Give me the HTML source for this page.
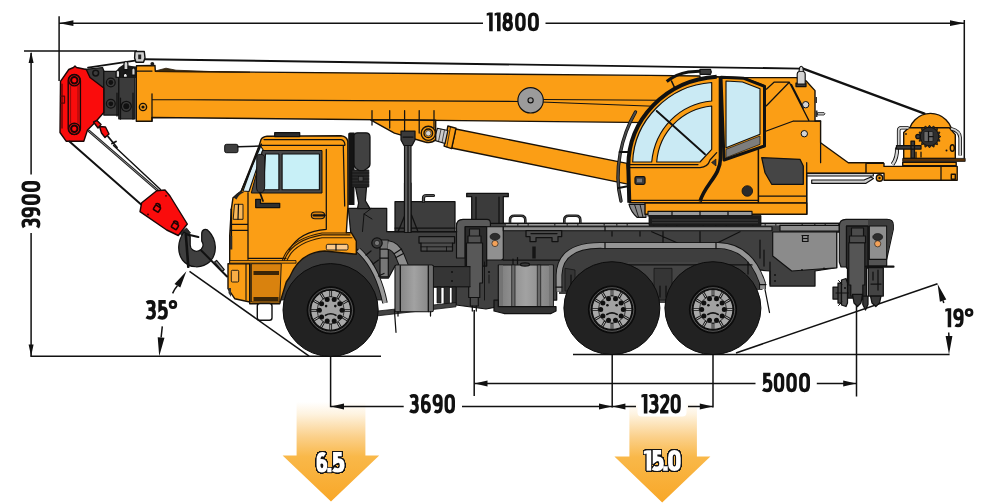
<!DOCTYPE html>
<html>
<head>
<meta charset="utf-8">
<title>Crane truck dimensions</title>
<style>
html,body{margin:0;padding:0;background:#fff;}
body{width:986px;height:504px;overflow:hidden;font-family:"Liberation Sans",sans-serif;}
svg{display:block;}
.dim{stroke:#111;stroke-width:1.5;fill:none;}
.ah{fill:#111;stroke:none;}
.t{font-family:"Liberation Sans",sans-serif;font-weight:bold;fill:#111;}
.o{fill:#FB9E15;stroke:#1a1208;stroke-width:1.4;stroke-linejoin:round;}
.r{fill:#FA0C0C;stroke:#1a0808;stroke-width:1.4;stroke-linejoin:round;}
.dk{fill:#3b3b3b;stroke:#111;stroke-width:1.25;stroke-linejoin:round;}
.md{fill:#5b5b5b;stroke:#111;stroke-width:1.15;stroke-linejoin:round;}
.lt{fill:#9b9b9b;stroke:#111;stroke-width:1.15;stroke-linejoin:round;}
.gl{fill:#CAEAF4;stroke:#111;stroke-width:1.15;stroke-linejoin:round;}
.gs{fill:none;stroke:#111;stroke-width:18}.gd{fill:none;stroke:#111;stroke-width:14}.gf{fill:#111;stroke:none}
.gso{fill:none;stroke:#111;stroke-width:36;stroke-linejoin:round;stroke-linecap:round}.gfo{fill:#111;stroke:#111;stroke-width:17;stroke-linejoin:round}
.gsw{fill:none;stroke:#fff;stroke-width:22}.gfw{fill:#fff;stroke:#fff;stroke-width:2}
.ln{fill:none;stroke:#111;stroke-width:1.25;stroke-linecap:round;stroke-linejoin:round;}
</style>
</head>
<body>
<svg width="986" height="504" viewBox="0 0 986 504">
<defs>
<filter id="ol" x="-10%" y="-20%" width="120%" height="140%" color-interpolation-filters="sRGB"><feMorphology in="SourceAlpha" operator="dilate" radius="1.1" result="d"/><feGaussianBlur in="d" stdDeviation="0.45" result="b"/><feComponentTransfer in="b" result="t"><feFuncA type="linear" slope="6" intercept="-1.6"/></feComponentTransfer><feFlood flood-color="#141414"/><feComposite in2="t" operator="in" result="o"/><feMerge><feMergeNode in="o"/><feMergeNode in="SourceGraphic"/></feMerge></filter>
<linearGradient id="gt" x1="0" y1="0" x2="1" y2="0"><stop offset="0" stop-color="#7c7c7c"/><stop offset="0.5" stop-color="#a2a2a2"/><stop offset="1" stop-color="#808080"/></linearGradient>
<linearGradient id="ga" x1="0" y1="0" x2="0" y2="1">
<stop offset="0" stop-color="#ffffff"/>
<stop offset="0.12" stop-color="#FEF3E0"/>
<stop offset="0.35" stop-color="#FBD08A"/>
<stop offset="0.55" stop-color="#F9B849"/>
<stop offset="1" stop-color="#F8A728"/>
</linearGradient>
<path id="g0" d="M9 36C9 17 16 9 28 9C40 9 47 17 47 36V64C47 83 40 91 28 91C16 91 9 83 9 64Z"/>
<path id="g8" d="M28 9C38 9 44 16 44 27C44 39 38 47 28 47C18 47 12 39 12 27C12 16 18 9 28 9ZM28 47C40 47 47 56 47 69C47 83 40 91 28 91C16 91 9 83 9 69C9 56 16 47 28 47Z"/>
<path id="g3" d="M5 15C11 11 18 9 25 9C37 9 42 16 42 27C42 40 35 47 22 47H14M22 47C36 47 44 55 44 69C44 83 37 91 24 91C17 91 10 89 4 85"/>
<path id="g6" d="M44 13C40 10 35 9 30 9C16 9 9 19 9 40V65C9 83 16 91 28 91C40 91 47 83 47 67C47 52 40 45 28 45C19 45 12 50 9 58"/>
<path id="g9" d="M12 87C16 90 21 91 26 91C40 91 47 81 47 60V35C47 17 40 9 28 9C16 9 9 17 9 33C9 48 16 55 28 55C37 55 44 50 47 42"/>
<path id="g5" d="M44 9H15V46C19 43 24 41 29 41C40 41 46 50 46 65C46 82 39 91 26 91C18 91 11 89 5 85"/>
<path id="g2" d="M7 20C12 13 19 9 27 9C38 9 44 16 44 28C44 39 38 48 30 58L12 86M3 91H47"/>
<path id="g1" d="M0 4L13 0H32V100H13V15L0 18Z"/>
<path id="gdot" d="M0 79H20V100H0Z"/>
<path id="gdeg" d="M22 7C31 7 37 13 37 23C37 33 31 39 22 39C13 39 7 33 7 23C7 13 13 7 22 7Z"/>
<g id="wheel">
<circle r="23.6" fill="#111" stroke="#050505" stroke-width="0.8"/>
<circle r="21.8" fill="none" stroke="#6a6a6a" stroke-width="0.8"/>
<circle r="20" fill="#a9a9a9" stroke="#0a0a0a" stroke-width="1.1"/>
<path d="M0.0 -13.2L0.0 -20.0M6.6 -11.4L10.0 -17.3M11.4 -6.6L17.3 -10.0M13.2 -0.0L20.0 -0.0M11.4 6.6L17.3 10.0M6.6 11.4L10.0 17.3M0.0 13.2L0.0 20.0M-6.6 11.4L-10.0 17.3M-11.4 6.6L-17.3 10.0M-13.2 0.0L-20.0 0.0M-11.4 -6.6L-17.3 -10.0M-6.6 -11.4L-10.0 -17.3" stroke="#161616" stroke-width="2.7" fill="none"/>
<path d="M0.0 -14.2L0.0 -19.3M7.1 -12.3L9.6 -16.7M12.3 -7.1L16.7 -9.7M14.2 -0.0L19.3 -0.0M12.3 7.1L16.7 9.6M7.1 12.3L9.6 16.7M0.0 14.2L0.0 19.3M-7.1 12.3L-9.7 16.7M-12.3 7.1L-16.7 9.7M-14.2 0.0L-19.3 0.0M-12.3 -7.1L-16.7 -9.7M-7.1 -12.3L-9.7 -16.7" stroke="#c4c4c4" stroke-width="0.9" fill="none"/>
<circle r="13.6" fill="#a2a2a2" stroke="#1a1a1a" stroke-width="0.8"/>
<g fill="#0f0f0f"><circle cx="3.5" cy="-10.7" r="2.5"/><circle cx="9.1" cy="-6.6" r="2.5"/><circle cx="11.3" cy="-0.0" r="2.5"/><circle cx="9.1" cy="6.6" r="2.5"/><circle cx="3.5" cy="10.7" r="2.5"/><circle cx="-3.5" cy="10.7" r="2.5"/><circle cx="-9.1" cy="6.6" r="2.5"/><circle cx="-11.3" cy="0.0" r="2.5"/><circle cx="-9.1" cy="-6.6" r="2.5"/><circle cx="-3.5" cy="-10.7" r="2.5"/><circle cx="-4.6" cy="-4.2" r="1.3"/><circle cx="4.6" cy="-4.2" r="1.3"/></g>
<path d="M-5.2 5Q0 1.8 5.2 5" fill="none" stroke="#141414" stroke-width="1.6" stroke-linecap="round"/>
</g>
</defs>
<rect width="986" height="504" fill="#fff"/>

<!-- ===== LOAD ARROWS ===== -->
<g id="arrows">
<path d="M296.6 402H365.4V455.6H379.2L331 501.5L282.6 455.6H296.6Z" fill="url(#ga)"/>
<path d="M629.4 402H696.9V456.5H710.4L662.2 502.4L614.4 456.5H629.4Z" fill="url(#ga)"/>
</g>

<!-- ===== DIMENSIONS ===== -->
<g id="dims">
<!-- 11800 -->
<path class="dim" d="M59.1 16.3V81M964.3 20V158.5M59 23.2H483M545.5 23.2H964"/>
<path class="ah" d="M59.2 23.2L73.4 20.3V26.1ZM964.1 23.2L950 20.3V26.1Z"/>
<!-- 3900 -->
<path class="dim" d="M24 51H137M31.1 53V174.5M31.1 233V356"/>
<path class="ah" d="M31.1 51.4L28.6 63H33.6ZM31.1 356.2L28.6 344.6H33.6Z"/>
<!-- ground -->
<path class="dim" d="M30.3 356.2H381M573 354.4H949.6"/>
<!-- 35 deg -->
<path class="dim" d="M189.5 271.3L309.1 356.2"/>
<path class="dim" d="M172.6 293.4Q174.5 289 177.4 285.7M162.3 326.4L161.1 337.5"/>
<path class="ah" d="M186.4 271.3L180.3 287.5L174.5 283.9ZM159.2 356.2L157.7 337.2L164.5 337.8Z"/>
<!-- 19 deg -->
<path class="dim" d="M736 353L937.5 283.8"/>
<path class="dim" d="M943.8 303L943 300.5M948.7 332.5L949 338"/>
<path class="ah" d="M937.6 284.1L946.3 299.6L939.9 301.8ZM949 354.4L945.6 336H952.4Z"/>
<!-- lower dims -->
<path class="dim" d="M330.6 355V407.2M612.2 355V407.5M713 355V407.5M474.2 310V396M856.5 301V396.5"/>
<path class="dim" d="M331 406.4H403.7M462 406.4H636M688 406.4H713"/>
<path class="dim" d="M474.5 383.5H755.5M816.8 383.5H856"/>
<path class="ah" d="M331 406.4L344 403.4V409.4ZM612 406.4L599 403.4V409.4ZM612.4 406.4L625.4 403.4V409.4ZM712.8 406.4L699.8 403.4V409.4ZM474.5 383.5L487.5 380.5V386.5ZM856.2 383.5L843.2 380.5V386.5Z"/>
<rect x="637.5" y="392" width="49" height="24.5" rx="4" fill="#fff"/>
</g>

<!-- ===== TEXT ===== -->
<g id="labels">
<use href="#g1" class="gf" transform="translate(486.7 12.4) scale(0.1875 0.1880)"/>
<use href="#g1" class="gf" transform="translate(494.6 12.4) scale(0.1875 0.1880)"/>
<use href="#g8" class="gs" transform="translate(502.4 12.4) scale(0.1893 0.1880)"/>
<use href="#g0" class="gs" transform="translate(515.1 12.4) scale(0.1893 0.1880)"/>
<use href="#g0" class="gs" transform="translate(527.9 12.4) scale(0.1964 0.1880)"/>
<use href="#g3" class="gs" transform="translate(21.4 228.2) rotate(-90) translate(0.0 0) scale(0.1846 0.1900)"/>
<use href="#g9" class="gs" transform="translate(21.4 228.2) rotate(-90) translate(10.7 0) scale(0.1821 0.1900)"/>
<use href="#g0" class="gs" transform="translate(21.4 228.2) rotate(-90) translate(23.2 0) scale(0.1929 0.1900)"/>
<use href="#g0" class="gs" transform="translate(21.4 228.2) rotate(-90) translate(36.3 0) scale(0.1929 0.1900)"/>
<use href="#g3" class="gs" transform="translate(409.3 394.0) scale(0.1808 0.1940)"/>
<use href="#g6" class="gs" transform="translate(421.0 394.0) scale(0.1768 0.1940)"/>
<use href="#g9" class="gs" transform="translate(432.5 394.0) scale(0.1821 0.1940)"/>
<use href="#g0" class="gs" transform="translate(444.5 394.0) scale(0.1875 0.1940)"/>
<use href="#g1" class="gf" transform="translate(641.4 394.0) scale(0.1875 0.1940)"/>
<use href="#g3" class="gs" transform="translate(648.7 394.0) scale(0.1885 0.1940)"/>
<use href="#g2" class="gs" transform="translate(659.5 394.0) scale(0.1885 0.1940)"/>
<use href="#g0" class="gs" transform="translate(670.6 394.0) scale(0.1821 0.1940)"/>
<use href="#g5" class="gs" transform="translate(762.0 372.7) scale(0.1904 0.1950)"/>
<use href="#g0" class="gs" transform="translate(773.8 372.7) scale(0.1875 0.1950)"/>
<use href="#g0" class="gs" transform="translate(786.3 372.7) scale(0.1875 0.1950)"/>
<use href="#g0" class="gs" transform="translate(799.1 372.7) scale(0.1946 0.1950)"/>
<use href="#g3" class="gs" transform="translate(145.7 300.1) scale(0.1942 0.1960)"/>
<use href="#g5" class="gs" transform="translate(157.2 300.1) scale(0.1942 0.1960)"/>
<use href="#gdeg" class="gd" transform="translate(168.7 300.1) scale(0.1932 0.1960)"/>
<use href="#g1" class="gf" transform="translate(945.3 308.2) scale(0.1844 0.1910)"/>
<use href="#g9" class="gs" transform="translate(953.2 308.2) scale(0.1857 0.1910)"/>
<use href="#gdeg" class="gd" transform="translate(964.8 308.2) scale(0.1955 0.1910)"/>
<g filter="url(#ol)">
<use href="#g6" class="gsw" transform="translate(316.9 452.4) scale(0.1786 0.1970)"/>
<use href="#gdot" class="gfw" transform="translate(327.4 452.4) scale(0.1950 0.1970)"/>
<use href="#g5" class="gsw" transform="translate(332.2 452.4) scale(0.2173 0.1970)"/>
<use href="#g1" class="gfw" transform="translate(644.0 450.5) scale(0.2188 0.2010)"/>
<use href="#g5" class="gsw" transform="translate(651.9 450.5) scale(0.2096 0.2010)"/>
<use href="#gdot" class="gfw" transform="translate(663.3 450.5) scale(0.2150 0.2010)"/>
<use href="#g0" class="gsw" transform="translate(668.5 450.5) scale(0.2107 0.2010)"/>
</g>
</g>

<!-- ===== CRANE TRUCK ===== -->
<g id="truck">
<!--BOOM-->
<g id="boom">
<!-- top rope + guy line to winch -->
<path class="ln" style="stroke-width:1.9" d="M144 59.2L800.5 68.6"/><path class="ln" style="stroke-width:2.3" d="M803 68.6L924.5 113.6"/>
<path class="ln" style="stroke-width:1.7" d="M88 67.6L135 60.6"/>
<!-- main boom -->
<path class="o" d="M136.5 65.8L155 65.5L155.3 71.3L650 75.4L700 76V124L650 122.6L152 117.5V121.2H136.3V70Z"/>
<path class="ln" d="M152 99.5L520 101.5M541 102L700 108M541 99.5L700 100.5M152 93.8V121.2M136.5 71H152"/>
<path d="M156 70.8L166 68.2L176 70.2L210 71.5L250 72.3L156 71.6Z" fill="#3a2a10" stroke="#2a1a08" stroke-width="0.8"/>
<circle cx="143" cy="107" r="3.6" class="o"/><circle cx="143" cy="107" r="1.6" fill="#111"/>
<circle cx="530.6" cy="100.3" r="12.7" class="lt"/><circle cx="530.6" cy="100.3" r="2.6" class="lt"/>
<!-- dark telescoping sections -->
<path class="dk" d="M85.5 69.3L102.5 67.5L104 71.3V89.5L89 78Z"/>
<path class="dk" d="M103.8 71.3H118.8V115H103.8Z"/>
<path class="dk" d="M118.8 76.3H135V118.8H118.8Z"/>
<path class="ln" d="M117 93V116M120.5 98V119M133 93V119"/>
<circle cx="110.8" cy="82.5" r="4.4" class="dk"/><circle cx="110.8" cy="82.5" r="2.4" fill="#111"/>
<circle cx="110.8" cy="103.8" r="4.4" class="dk"/><circle cx="110.8" cy="103.8" r="2.4" fill="#111"/>
<circle cx="126.3" cy="106.3" r="5" class="dk"/><circle cx="126.3" cy="106.3" r="3" fill="#111"/>
<!-- small rollers on top -->
<path d="M115.5 72L119 67.5L123.5 64.5L131.5 66L136.3 66.5V78H115.5Z" fill="#1a1a1a"/>
<path d="M135 51.5H144.3L145 58L143.5 62.3H136L134.6 58Z" fill="#cfcfcf" stroke="#111" stroke-width="1.4" stroke-linejoin="round"/>
<path d="M138.2 54.5H141.2V59.2H138.2Z" fill="#222"/>
<path class="lt" style="fill:#d6d6d6" d="M124 63.5Q125.9 59 127.9 63.5V69.6H124Z"/>
<path class="lt" style="fill:#d6d6d6" d="M116.2 72Q117.9 68.5 119.6 72V77.3H116.2ZM131.8 69.5Q133.4 66.5 135.1 69.5V75.1H131.8Z"/>
<path class="lt" style="fill:#ececec" d="M123.4 74.8L125.3 72.3L127.3 74.8V77.3H123.4Z"/>
<circle cx="152.3" cy="63.8" r="1.9" fill="#1a1a1a"/>
<circle cx="95.7" cy="73.1" r="2.9" fill="#3b3b3b" stroke="#111" stroke-width="1.5"/>
<!-- red head -->
<path class="r" d="M68.8 69.5L73.5 67.5L75 66L76.5 67.5L86.3 69.5L90 77.5L103.8 88V112.5L95 122.5L87.5 130L83.8 141.3H66.3L60 132.5L60.5 81.3Z"/>
<path class="ln" style="stroke:#5a0505" d="M62 84V128M64.5 96H60.5M64.5 103H60.5M64.5 96V103"/>
<rect x="68.2" y="74.5" width="12.2" height="60" rx="6.1" class="r"/>
<path class="ln" style="stroke:#7a0a0a;stroke-width:0.8" d="M70.6 86V123M78 86V123"/>
<circle cx="74.3" cy="80.3" r="5.6" class="r"/><circle cx="74.3" cy="80.3" r="3.2" fill="#FA0C0C" stroke="#1a0505" stroke-width="2"/>
<circle cx="74.3" cy="128.8" r="5.6" class="r"/><circle cx="74.3" cy="128.8" r="3.2" fill="#FA0C0C" stroke="#1a0505" stroke-width="2"/>
<!-- hoist ropes -->
<path class="ln" style="stroke-width:2" d="M69.5 141.5L141.7 205"/>
<path class="ln" style="stroke-width:2.6;stroke:#222" d="M89 131L157.5 190.3"/><path class="ln" style="stroke-width:0.7;stroke:#bbb" d="M89 131L157.5 190.3"/>
<path class="ln" style="stroke-width:1.4" d="M113.5 145.5L160.5 189.5"/>
<path class="r" d="M93.5 122L97 120.5L101 124.5L98 128ZM99.5 126.5L105.5 127L109 134L105 137.5L101.5 133Z"/>
<path class="ln" style="stroke-width:1.8" d="M108 136.5L117 147.5M112 143.5L116 141.5"/>
<!-- hook block -->
<path class="r" d="M141.7 202.7L156.7 190.7L165 190L170 196L187.3 224L178.3 235.5L166.7 230L140 211.7Z"/>
<g fill="none" stroke="#1e0303" stroke-width="1.6"><rect x="154" y="206" width="6" height="5.2" rx="1" transform="rotate(32 157 208.6)"/><path d="M155.5 204.5a2.6 2.6 0 0 1 4.4 2.6"/><rect x="172" y="223.5" width="6" height="5.2" rx="1" transform="rotate(32 175 226)"/><path d="M173.3 222a2.6 2.6 0 0 1 4.4 2.6"/></g>
<circle cx="148" cy="214.5" r="0.9" fill="#300"/><circle cx="166" cy="195.8" r="0.9" fill="#300"/>
<!-- hook -->
<path d="M180 233.5L186.5 228L190.5 233L184.5 238.5Z" fill="#2a2a2a" stroke="#111" stroke-width="0.8"/>
<path class="dk" style="fill:#3f3f3f" d="M183.9 232L190.2 236.5V244.8A6.4 6.4 0 1 0 201.7 241V234.5C201.5 229.5 206 227.5 209 231.5C217 240 217.5 254 210 261.5C202 269 189 268.5 182.5 260C177 252.5 177.5 241 183.9 232Z"/>
<path class="ln" style="stroke-width:2.6" d="M185.8 234L188.3 266.8"/>
<path class="ln" style="stroke-width:2.2" d="M186.5 234.3L198.3 237"/>
<path class="ln" style="stroke-width:2" d="M201.3 250.5L227 276.5"/>
<path class="md" style="fill:#8a8a8a" d="M214.6 262L216.6 260.4L224.3 269.6L222.3 271.4Z"/>
</g>
<!--CHASSIS-->
<g id="chassis">
<path d="M280 300L284 270Q292 240 320 236H352L358 246Q368 255 376 272L382 300H290Z" fill="#3a3a3a" stroke="#111" stroke-width="0.8"/>
<!-- main frame dark body -->
<path class="dk" style="fill:#404040" d="M348.3 208.3H386.7V231.7H456.7V223.3H839.3V232H836.7V267.7L815 271V286H770V271L740 268.3H560L556.7 291.7V300H498.3V306.7L486 309L456 305V287H433.3V266H395L388.5 278H380L372 262L352 245Z"/>
<!-- snorkel -->
<path d="M348.2 134Q348.2 132.5 350 132.5H354.5V205H348.2Z" fill="#141414"/>
<path class="dk" style="fill:#3d3d3d" d="M355.5 187H366.5L365.4 200.7L370 208.6H357.5L358.6 203Z"/>
<path d="M351.8 170H368.8V187H351.8Z" fill="#2a2a2a" stroke="#111" stroke-width="0.8"/>
<path class="ln" style="stroke-width:0.8" d="M351.8 173H368.8M351.8 176H368.8M351.8 179H368.8M351.8 182H368.8M351.8 185H368.8"/>
<rect x="358.5" y="176.5" width="4.5" height="4.5" fill="#4a4a4a" stroke="#111" stroke-width="0.6"/>
<path class="dk" style="fill:#414141" d="M354 136Q354 132.8 357.5 132.8H366Q370 132.8 370 137V164Q370 167 367 168.5L364 170.5H359L356 168.5Q354 167 354 164Z"/>
<path class="ln" style="stroke-width:1" d="M371 208.6L364 214L362.5 231.5M364 214L372 219"/>
<!-- tank box behind post -->
<path class="dk" style="fill:#3d3d3d" d="M395 201.7H455V231.7H395Z"/>
<path d="M423.5 201.5V198Q423.5 195.5 426.5 195.5H433.5" fill="none" stroke="#111" stroke-width="3.2" stroke-linecap="round"/>
<path d="M423.5 201.5V198Q423.5 195.5 426.5 195.5H433.5" fill="none" stroke="#555" stroke-width="1.4" stroke-linecap="round"/>
<path class="ln" d="M395 228H455M398 231.7L405 215M418 231.7L411.5 215"/>
<path class="md" d="M404.5 183H411V231.7H404.5Z"/>
<!-- pedestal -->
<path class="dk" d="M466.7 193.3H508.3V196.7H503.3V223.3H471.7V196.7H466.7Z"/>
<path class="ln" d="M476 197V223M499 197V223"/>
<!-- front outrigger -->
<path class="md" style="fill:#5a5a5a" d="M456.5 258V226Q456.5 219.3 463 219.3H487Q490.4 219.3 490.4 223V226.7H465.2V258Z"/>
<path class="dk" style="fill:#2b2b2b" d="M465.2 226.7H486.7V266H465.2Z"/>
<path class="md" style="fill:#505050" d="M469.5 229H479.5V236H469.5ZM468 236H481V243H468Z"/>
<path class="md" style="fill:#585858" d="M466.5 243H482.5V283H479.8V297.5H468.7V283H466.5Z"/>
<path class="md" style="fill:#4a4a4a" d="M470.3 297.5H478.3V306H470.3Z"/><path class="ln" d="M472.3 306V311M476.3 306V311"/>
<path class="ln" style="stroke-width:0.9" d="M484.5 262V300M489 275V283"/>
<circle cx="489" cy="272" r="1.1" fill="#111"/>
<path class="lt" style="fill:#909090" d="M486.7 226.7H503.3V258Q503.3 260 501 260H486.7Z"/>
<ellipse cx="495" cy="236.7" rx="5" ry="3.4" fill="#2d2d2d" stroke="#111" stroke-width="0.6"/>
<circle cx="495" cy="243.5" r="3.1" fill="#F4A259" stroke="#222" stroke-width="0.7"/>
<!-- deck -->
<path class="lt" style="fill:#8e8e8e" d="M503.3 226.7H772V230.7H503.3Z"/>
<path class="ln" d="M503.3 223.3H839.3M605 226.7V230.7M780 223.3V226"/>
<path d="M510 223V220Q510 215.8 514.5 215.8H521Q525.3 215.8 525.3 220V223M564.3 223V220Q564.3 215.8 568.8 215.8H576Q580.3 215.8 580.3 220V223" fill="none" stroke="#111" stroke-width="2.6"/>
<path d="M510 223V220Q510 215.8 514.5 215.8H521Q525.3 215.8 525.3 220V223M564.3 223V220Q564.3 215.8 568.8 215.8H576Q580.3 215.8 580.3 220V223" fill="none" stroke="#4a4a4a" stroke-width="1"/>
<path d="M506 224.8H838" fill="none" stroke="#c4c4c4" stroke-width="1" stroke-dasharray="11 1.5 9 1.5 25 1.5"/>
<!-- steps -->
<path class="dk" style="fill:#4a4a4a" d="M526 230.7H561.7V236.5H558V241.5H552V237.5H536V241.5H530V236.5H526Z"/>
<path class="ln" d="M531 233.5H557"/>
<path class="dk" style="fill:#4c4c4c" d="M419 236.5H454.6V243H452.5V251H421V243H419Z"/><path class="ln" style="stroke-width:0.9" d="M421 243H452.5M421 246.8H452.5M427 246.8V251M446.5 246.8V251"/>
<rect x="532.3" y="246.5" width="3.4" height="12" fill="#151515"/>
<!-- frame details -->
<path class="ln" d="M388.3 231.7H456.7M433.3 266.7H470M433.3 286.7H470M503.3 260H560M560 268.3H740M651.7 231.7L678.3 243.3H716.7L740 231.7M663 231.7V243M700 231.7V256H720V243M640 231.7V236M612 231.7V236"/>
<path d="M433.3 266.7H470V286.7H433.3Z" fill="#353535" stroke="#111" stroke-width="0.8"/>
<circle cx="452" cy="272" r="1" fill="#111"/><circle cx="452" cy="281" r="1" fill="#111"/>
<path d="M437 287H441V303H437ZM444 287H449.5V304H444ZM452 287H456V305H452Z" fill="#2e2e2e" stroke="#111" stroke-width="0.7"/>
<path d="M376 311.2L456 302.5V306.8L376 316Z" fill="#424242" stroke="#111" stroke-width="0.8"/>
<!-- exhaust / pipes -->
<path class="md" style="fill:#777" d="M380 240H388.3V276.7H380Z"/>
<path class="ln" d="M380 249H388.3M380 258H388.3"/>
<path d="M388 245Q396 246 400 256L404 266" fill="none" stroke="#111" stroke-width="9.6"/>
<path d="M388 245Q396 246 400 256L404.3 266.6" fill="none" stroke="#8c8c8c" stroke-width="7.6"/>
<path class="ln" d="M394.5 253.5L401.5 249M396 257.5L403.5 253.5"/>
<circle cx="377" cy="243" r="5.2" class="dk"/><circle cx="377" cy="243" r="2.6" fill="#777" stroke="#111" stroke-width="0.6"/>
<!-- front mudguard -->
<path d="M358.3 250Q378 268 385 303" fill="none" stroke="#111" stroke-width="5.6"/>
<path d="M358.3 250Q378 268 385 303" fill="none" stroke="#9a9a9a" stroke-width="3.8"/>
<path class="ln" d="M394.4 310L396 332.3"/>
<path class="ln" d="M366 255L371 251M373 264L378.5 260M378.5 276L384 273.5"/>
<!-- tanks -->
<path class="lt" style="fill:url(#gt)" d="M395 266.5Q395 265 396.5 265H431.8Q433.3 265 433.3 266.5V310.2Q433.3 311.7 431.8 311.7H396.5Q395 311.7 395 310.2Z"/>
<path d="M396 266H400V311H396ZM428.3 266H432.3V311H428.3Z" fill="#6e6e6e"/>
<path class="ln" d="M400.3 265.5V311.5M428.3 265.5V311.5M398 311.7V316M430.5 311.7V316"/>
<path class="lt" style="fill:url(#gt)" d="M498.3 265H553.3V306.7H498.3Z"/>
<path d="M499 265.5H503V306H499ZM549 265.5H552.8V306H549Z" fill="#747474"/>
<path d="M511.7 265H515V309.5H511.7ZM537.3 265H540.7V309.5H537.3Z" fill="#6a6a6a" stroke="#111" stroke-width="0.7"/>
<path class="dk" style="fill:#333" d="M494 300H498.3V306.7H556V311L551 313.5H504L494 311Z"/>
<ellipse cx="525" cy="264.5" rx="4.5" ry="1.6" class="dk"/>
<path class="ln" d="M513 259V264M517.5 257.5V264"/>
<!-- rear wheel arch band -->
<path d="M559 294V275Q560 244.5 603 245.5H718Q750 246 762.5 283V290H750L746 274H590L586 294Z" fill="#3e3e3e"/>
<path d="M559 291.7V275Q560 244.5 603 245.5H718Q750 246 762.5 283V289" fill="none" stroke="#111" stroke-width="6.6"/>
<path d="M559 291.7V275Q560 244.5 603 245.5H718Q750 246 762.5 283V289" fill="none" stroke="#959595" stroke-width="4.8"/>
<path class="ln" d="M605 242.5V248.5M716 242.5V248.5M556 287H562M759.5 284.5H766M765 289.5L769.5 312.5"/>
<!-- arch inner dark -->
<path d="M628 262H698V303H628Z" fill="#444"/>
<path class="ln" d="M600 264.9H752"/>
<path d="M565 268.3V291H575V270ZM654 268.3H672V300H654Z" fill="#353535" stroke="#111" stroke-width="0.7"/>
<path class="ln" d="M660 286V297M666 286V297M571 275V285M748 262V274"/>
<!-- tool box -->
<path class="lt" style="fill:#8b8b8b" d="M772.7 232H836.7V267.7L791.7 271L772.7 256Z"/>
<path class="lt" style="fill:#8e8e8e" d="M780 225.3H839.3V231H780Z"/>
<path class="ln" style="stroke-width:1.2" d="M802.5 235.5V241.5H808V235.5M802 235.5H808.5M803.5 238.5H807"/>
<circle cx="802" cy="270" r="0.9" fill="#111"/><circle cx="824" cy="268.5" r="0.9" fill="#111"/>
<path class="ln" d="M760 240V258M764 250V266M770 262V284"/>
<circle cx="775" cy="275" r="1" fill="#111"/><circle cx="775" cy="281" r="1" fill="#111"/>
<!-- rear outrigger -->
<path class="md" style="fill:#545454" d="M839.3 262L841 267H846.5V226H868V266H886.7V259.3L893.3 229.5V225Q893.3 219.3 887 219.3H846Q839.3 219.3 839.3 226Z"/>
<path d="M868 219.8H887Q892.8 219.8 892.8 225V229.5L887.5 254V226H868Z" fill="#3d3d3d"/>
<path class="dk" style="fill:#2e2e2e" d="M846.5 226H868V268H866.5V298H847.5V268H846.5Z"/>
<path class="md" style="fill:#555" d="M848.8 242.7H864.8V285H862.8V296H850.8V285H848.8Z"/><path class="md" style="fill:#4c4c4c" d="M851.5 228H863.5V236H851.5ZM849.5 236H865.5V242.7H849.5Z"/>
<path class="lt" style="fill:#8f8f8f" d="M869.3 226H886.7V259.3H869.3Z"/>
<ellipse cx="877.7" cy="237" rx="5" ry="3.5" fill="#2d2d2d" stroke="#111" stroke-width="0.6"/>
<circle cx="877.7" cy="243.8" r="3.1" fill="#F4A259" stroke="#222" stroke-width="0.7"/>
<path class="dk" style="fill:#444" d="M868.3 267.7H883.3V296H868.3Z"/>
<path class="ln" style="stroke-width:2.2" d="M866 266.7H893.5"/>
<path class="ln" d="M873 272V280M878 270V290M871 284H881"/>
<path class="dk" style="fill:#383838" d="M852.5 294.3H862.5L861 303L857.5 306.5L854 303ZM870.5 296H881L879.5 303L875.8 306.5L872 303ZM862.8 296H868V304.5L865.5 310L862.8 304.5Z"/>
<path class="dk" style="fill:#4a4a4a" d="M833 287H838V299H833ZM838 283H841.5V303H838Z"/>
<path class="dk" style="fill:#555" d="M841.5 280L846 278.5L847.5 283V303L846 306.5L841.5 305Z"/>
<path class="ln" style="stroke-width:1" d="M838.5 280.5L842 284M838.5 305.5L842 302M836 293H848.5"/>
<circle cx="845" cy="288" r="1" fill="#111"/>
</g>
<!--SUPER-->
<g id="super">
<!-- lift cylinder -->
<path class="o" d="M455.7 129L627 163.4L629 184.4L451.5 148Z"/>
<path class="o" d="M447.9 126L456 128.2L451.6 148.6L444.1 146.1Z"/>
<path class="ln" d="M450.5 127L446.8 147" style="stroke-width:0.8"/>
<path class="lt" style="fill:#cdcdcd" d="M437.4 128.3L447.9 130.5L445 143.5L433.8 140.1Z"/>
<path class="ln" style="stroke-width:0.7" d="M441 129.3L438.5 141.5M444.5 130L442 142.5"/>
<!-- boom bracket -->
<path class="o" d="M370.6 119.8L435.7 120.2V139.5C433 142.5 429 143 425 142L394.4 133.2Z"/>
<path class="ln" d="M372 110.5V125M389.7 110.5V128M404.6 110.5V132M419.2 110.5V133M434 110.5V128"/>
<circle cx="428.3" cy="133.3" r="7.1" class="o"/><circle cx="428.3" cy="133.3" r="4.3" class="o"/><circle cx="428.3" cy="133.3" r="2.7" fill="#d8d8d8" stroke="#111" stroke-width="0.6"/>
<!-- boom rest post -->
<path class="dk" d="M401 131H415V140L412 145.5H404L401 140Z"/>
<path class="md" d="M404.5 145.5H411V232.5H404.5Z"/>
<path class="ln" d="M408 146V232M403 137H413"/>
<!-- tail structure -->
<path class="o" d="M762 77.6H796.5L806 80.8L815 90.6V121H820.6V142.7L848.3 162.7H883.3V173.3H806.7V214.3H740V77.6Z"/>
<path class="ln" d="M766.4 89.2L774 82.2H789.3L808.8 120.4M766.4 105.8L789.3 82.2M791.5 84.5L803.5 108M793.5 121H820.6M793.5 121L766.4 131M820.6 142.7V162.7"/>
<circle cx="805.7" cy="104.7" r="3.2" fill="#d4d4d4" stroke="#111" stroke-width="1"/>
<circle cx="804.3" cy="133.7" r="3.2" fill="#d4d4d4" stroke="#111" stroke-width="1"/>
<path d="M815.5 110.5H817.5V117H815.5Z" fill="#333"/><path d="M817.5 112.6H824Q826 113.8 824 115H817.5Z" fill="#d0d0d0" stroke="#111" stroke-width="0.8"/><path d="M815.3 97H817V103H815.3Z" fill="#333"/>
<path class="dk" d="M796 83H806V86.5H796Z"/><path class="lt" style="fill:#d4d4d4" d="M797.2 84V74Q797.2 72 799 71.5L799.5 68Q801.2 64.5 803 68L803.4 71.5Q805.2 72 805.2 74V84Z"/>
<path class="ln" style="stroke-width:0.8" d="M799.3 71.5H803.3"/>
<path class="dk" style="fill:#454545" d="M761.7 157.7L800 159.3L803.3 166V184.3H771.7L765 172.7Z"/>
<path class="lt" style="fill:#d0d0d0" d="M806.7 173.3H873.3V176H806.7ZM811.7 180H864L871 177L873.5 178.5L866 183.3H811.7Z"/>
<path class="ln" d="M758.5 146V203M806.7 162.7V214.3M758.5 203H806.7M742 196H806.7"/>
<!-- winch -->
<path class="o" d="M866 163.4H884V166.4H957.2V180.2H884V173.3H866Z"/>
<path class="ln" d="M941 166.4V180.2"/><rect x="951.3" y="174.3" width="4" height="4.9" class="o"/>
<circle cx="879.5" cy="178" r="3.2" class="o"/><circle cx="879.5" cy="178" r="1.2" fill="#111"/>
<path class="o" d="M908.7 135.2A21.8 21.8 0 0 1 952.3 135.2Z"/>
<path class="o" d="M903.7 158.4V132.6L908.6 127.7H949.3L955.3 134.6V158.4Z"/>
<path d="M902.7 158.4H965.2V161.4H902.7Z" fill="#5a3208" stroke="#111" stroke-width="0.8"/>
<path class="o" d="M902.7 162.2H956.2V165.6H902.7Z"/>
<g fill="#2e2e2e" stroke="#111" stroke-width="0.8"><circle cx="929.5" cy="136.6" r="9.4"/>
<path d="M929.5 125.2l1.6 2.4h-3.2zM929.5 148l1.6-2.4h-3.2zM918.1 136.6l2.4-1.6v3.2zM940.9 136.6l-2.4-1.6v3.2zM921.4 128.5l2.8.6-2.2 2.2zM937.6 128.5l-.6 2.8-2.2-2.2zM921.4 144.7l.6-2.8 2.2 2.2zM937.6 144.7l-2.8-.6 2.2-2.2zM925 126l2.4 1.4-2.8 1.2zM934 126l.4 2.6-2.8-1.2zM925 147.2l-.4-2.6 2.8 1.2zM934 147.2l-2.4-1.4 2.8-1.2zM919 132l2.6.2-1.4 2.6zM919 141.2l1.2-2.8 1.4 2.6zM940 132l-1.2 2.8-1.4-2.6zM940 141.2l-2.6-.2 1.4-2.6z"/></g>
<rect x="924" y="131.5" width="9" height="10" rx="1" fill="#6a6a6a" stroke="#111" stroke-width="0.7"/>
<path class="ln" d="M928.5 131.5V141.5M928.5 136.5H933"/>
<circle cx="918" cy="136.5" r="2.2" class="dk"/>
<path d="M898.7 147.5V130.5Q898.7 127.7 901.5 127.7H908.6" fill="none" stroke="#111" stroke-width="3.6"/>
<path d="M898.7 147.5V130.5Q898.7 127.7 901.5 127.7H908.6" fill="none" stroke="#cfcfcf" stroke-width="1.9"/>
<path d="M951 128.7Q960.2 131 960.2 138V155.5" fill="none" stroke="#111" stroke-width="3.6"/>
<path d="M951 128.7Q960.2 131 960.2 138V155.5" fill="none" stroke="#cfcfcf" stroke-width="1.9"/>
<path d="M897 147.5Q897.5 158 892.5 164.5" fill="none" stroke="#111" stroke-width="4"/>
<path d="M897 147.5Q897.5 158 892.5 164.5" fill="none" stroke="#d6d6d6" stroke-width="2.2"/>
<path class="dk" d="M896.5 145.5H921V149H896.5ZM911 141H914.5V158H911Z"/>
<path class="ln" d="M916 152V158M921 152V157"/>
<ellipse cx="952.3" cy="148" rx="2" ry="3.2" class="o"/><circle cx="946.5" cy="150.5" r="1" fill="#111"/><circle cx="906" cy="134" r="0.9" fill="#111"/>
<!-- operator cab -->
<path class="o" d="M629.3 202.7L628.3 166C628.5 120 665 80 716.7 76.7L743.3 77.7L765 86V146L758.3 148.5V202.7Z"/>
<path class="gl" d="M632.7 162C634 121 668 85.5 711.7 82.5V101C680 104 655 128 651.7 162Z"/>
<path class="gl" d="M656.7 162C659 132 682 109 711.7 106V149.3L700 162Z"/>
<path class="ln" style="stroke-width:1.9" d="M656.7 111L705 154.3"/>
<path d="M629.3 202.7L628.3 166C628.5 120 665 80 716.7 76.7" fill="none" stroke="#111" stroke-width="4"/>
<path d="M720.5 77V158C720.5 176 705 184 700 201.5" fill="none" stroke="#111" stroke-width="3.6"/>
<path d="M721 77.3L743.3 78.2L764.5 86.3V146L724 160Z" fill="#FB9E15" stroke="#111" stroke-width="3" stroke-linejoin="round"/>
<path class="gl" d="M726 81L742.5 82L760 88.7V134.3L726 147.7Z"/>
<path d="M726 149.3L760 136V144.3L726 157.7Z" fill="#7d7d7d" stroke="#111" stroke-width="0.7"/>
<path class="ln" d="M630 167.7H700Q708 167 710 160L716.7 152.7M630 164.5H698M630 200.3H758"/>
<path d="M716 159l-4.5 3.5 4.5 3.5z" fill="#333" stroke="#111" stroke-width="0.6"/>
<rect x="635" y="176.7" width="10" height="7.6" rx="1.5" class="dk"/><rect x="637" y="178.7" width="5" height="3.6" fill="#777"/>
<circle cx="747.3" cy="191" r="5.3" fill="#2b2b2b" stroke="#111" stroke-width="0.8"/>
<!-- grab rail -->
<path d="M635.5 112C622 135 613 170 621 201" fill="none" stroke="#111" stroke-width="3.4" stroke-linecap="round"/>
<path d="M635.5 112C622 135 613 170 621 201" fill="none" stroke="#4a4a4a" stroke-width="1.8" stroke-linecap="round"/>
<path class="ln" style="stroke-width:1.8" d="M619.5 152H629M618.5 188L629 186"/>
<!-- roof light -->
<path d="M666.7 81.5Q676 74 688.3 72L703 71" fill="none" stroke="#111" stroke-width="3"/>
<path class="dk" d="M700 69.3H710.5Q712 71.8 710.5 74.3H700Z"/>
<path class="ln" style="stroke-width:1.6" d="M671.5 81L675 88.5"/>
<!-- cab base / slew ring -->
<path class="lt" style="fill:#8a8a8a" d="M629 204.4H646V217.3H637Q631 212 629 204.4Z"/><path class="ln" style="stroke-width:0.9" d="M634.5 204.4L638.5 217M640 204.4L643 217.3"/>
<path class="o" d="M645 203H806.7V214.3H645Z"/>

<path class="lt" d="M648 211.3H752V216H648Z"/>
<path class="ln" d="M672 211.3V216M700 211.3V216M728 211.3V216"/>
<path d="M649 215.5H761V225.5H649Z" fill="#1c1c1c" stroke="#111" stroke-width="0.8"/><path d="M652 220H758M652 222.8H758" stroke="#4a4a4a" stroke-width="0.8" fill="none"/>
</g>
<!--CAB-->
<g id="cab">
<!-- wheel well dark -->
<!-- cab body -->
<path class="o" d="M261 139.6Q262.5 136.6 267 136.2L341 135.7Q347 136.3 347.8 141.5L348 206L346.3 232.7H351.3L356.3 241V254.3L324.7 251Q300 252 289.7 277L286.3 282L279.7 303.7H249.7V263.7H229.7V236L231.3 209.3L233 197.7L241.3 191L259.2 145.5Z"/>
<!-- roof marker -->
<path class="dk" style="fill:#2b2b2b" d="M274.7 132.7H299.7V136.5H274.7Z"/>
<!-- roof lines -->
<path class="ln" d="M262 145.3H344.6M343.3 145.3L344.7 206M264 139.6H341Q344.5 140 345 145"/>
<!-- windshield -->
<path class="gl" style="fill:#d9eff6" d="M259.7 145L263 149.5L249 191.5L243 191Z"/>
<path class="ln" style="stroke-width:1.6" d="M261.3 144.3L241.3 191"/>
<!-- side window frame -->
<path d="M262.5 150.5H322V193H251.3Z" fill="#474747" stroke="#111" stroke-width="1"/>
<path class="gl" style="fill:#C8F0F7" d="M265.5 154H278.9V189.7H263.4Z"/>
<path class="gl" style="fill:#C8F0F7" d="M282.1 154H319.4V189.7H282.1Z"/>
<!-- door lines -->
<path class="ln" d="M248 192.7V259.3M326.3 149.3V229.3M326.3 229.3Q300 231 289 250M230.5 230.3H248M232 224.3H248M248 258.3H286"/>
<path class="ln" style="stroke-width:1.1;stroke:#2e1c06" d="M281.7 262.5Q288 239 322 233H346.3M283.6 262.5Q289.5 240.8 322 234.9H350M286.3 262.5Q292 243.5 322 237.8H352"/>
<!-- fender marker light -->
<rect x="326.3" y="244.3" width="21.7" height="5.7" rx="1.5" fill="#FBC98A" stroke="#111" stroke-width="0.9"/><path class="ln" d="M336 244.3V250"/>
<!-- headlight indicator -->
<path d="M234.5 204.3H243V219.3H233.2Z" fill="#F9B85A" stroke="#111" stroke-width="0.9"/><path class="ln" d="M238.5 204.3L238 219.3"/>
<path class="ln" style="stroke-width:1.6" d="M231.3 209.3V236"/>
<path d="M229.9 236H232.3V249.5H229.9Z" fill="#2a2a2a"/>
<!-- big mirror -->
<path d="M256.8 158Q256.3 154.3 260 154.3Q264.7 154.3 264.7 158V186Q264.7 192.7 260.5 192.7Q256.3 192.7 256.5 186Z" fill="#3a3a3a" stroke="#111" stroke-width="1"/>
<path class="ln" style="stroke-width:1.8" d="M260 192.7L263 201"/>
<path class="dk" style="fill:#2f2f2f" d="M255.7 199.3H260.5V203.3H279.7V207.5H255.7Z"/>
<!-- small mirror -->
<rect x="224.7" y="144.3" width="13.3" height="8.4" rx="1.8" fill="#3f3f3f" stroke="#111" stroke-width="1"/>
<path class="ln" style="stroke-width:1.5" d="M238 146.7L261 146"/>
<path d="M241 191Q236 193 233.5 197.5L236.5 199.5Q239 194 244 192.5Z" fill="#222"/>
<!-- handle -->
<path d="M311.3 215.3Q311.3 212 315 212H321Q324.7 212 324.7 215.3Q324.7 218.7 321 218.7H315Q311.3 218.7 311.3 215.3Z" fill="#D9820E" stroke="#111" stroke-width="1.1"/><path class="ln" style="stroke-width:2.2" d="M313.5 215.3H324.7"/>
<!-- bumper & step -->
<path class="o" d="M228 263.7H249.7V302L234.7 298.7L228 288.7Z"/>
<rect x="231.3" y="270.3" width="7.4" height="11.7" rx="1" fill="#F9AE45" stroke="#111" stroke-width="0.9"/>
<path d="M228.5 288H231V297L228.5 293Z" fill="#333"/>
<path d="M251.3 263.7H281.3L279.7 302H251.3Z" fill="#D9820E" stroke="#111" stroke-width="0.9"/>
<path d="M253.5 271H279V275H253.5ZM253.5 297H278.5V301H253.5Z" fill="#3b2507"/>
<path class="ln" style="stroke-width:1.1" d="M249.7 263.7V302M246 262V300"/>
<path d="M229.7 260.5H296V263.2H229.7Z" fill="#E8900F" stroke="#111" stroke-width="0.8"/>
<!-- mud flap bracket -->
<rect x="257.3" y="303.5" width="14.7" height="16.8" rx="2.5" fill="#fff" stroke="#111" stroke-width="1.4"/>
</g>
<!--WHEELS-->
<ellipse cx="330.6" cy="310" rx="47.6" ry="46.4" fill="#222" stroke="#0c0c0c" stroke-width="1"/>
<ellipse cx="611.9" cy="308.1" rx="48" ry="46.4" fill="#222" stroke="#0c0c0c" stroke-width="1"/>
<ellipse cx="712.9" cy="308.1" rx="48" ry="46.4" fill="#222" stroke="#0c0c0c" stroke-width="1"/>
<use href="#wheel" x="330.7" y="310.3"/>
<use href="#wheel" x="612" y="309.5"/>
<use href="#wheel" x="713" y="309.5"/>
</g>
</svg>
</body>
</html>
